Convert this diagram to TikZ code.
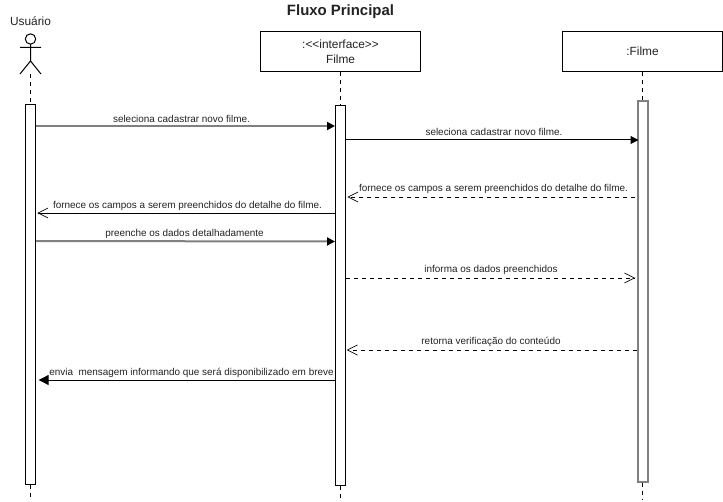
\documentclass[tikz,border=0pt]{standalone}
\usepackage{fontspec}
\setmainfont{Liberation Sans}
\usetikzlibrary{arrows.meta}
\definecolor{linecolor}{HTML}{000000}
\definecolor{softline}{HTML}{808080}
\definecolor{textcolor}{HTML}{222222}

\begin{document}
\begin{tikzpicture}[
    x=0.75pt, y=-0.75pt,
    classbox/.style={draw=linecolor, line width=0.75pt, fill=white, minimum width=120pt, minimum height=30pt, inner sep=0pt, align=center, font=\fontsize{8.9}{11}\selectfont, text=textcolor},
    activation/.style={draw=linecolor, line width=0.75pt, fill=white, minimum width=7.5pt, minimum height=285pt, inner sep=0pt},
    lifeline/.style={draw=linecolor, line width=0.75pt, dash pattern=on 3pt off 3pt},
    msglabel/.style={inner sep=0pt, font=\fontsize{7.45}{9}\selectfont, text=textcolor},
    call/.style={draw=linecolor, line width=0.75pt, -{Triangle[length=6pt, width=6pt]}},
    softcall/.style={draw=softline, line width=1.5pt, -{Triangle[length=6pt, width=6pt, color=linecolor]}},
    reply/.style={draw=linecolor, line width=0.75pt, -{Straight Barb[length=7.5pt, width=7.5pt, line width=0.5pt]}},
    dashreply/.style={reply, dash pattern=on 3pt off 3pt}
]
  \useasboundingbox (0,0) rectangle (723,502);

  % 1. Title and headers
  \node[inner sep=0pt, font=\bfseries\fontsize{11.2}{13}\selectfont, text=textcolor] (title) at (340.5,11.5) {Fluxo Principal};
  \node[inner sep=0pt, font=\fontsize{8.9}{12}\selectfont, text=textcolor] (usuario) at (30.5,21) {Usuário};
  \node[classbox] (interface) at (340.5,51.5) {:{<}{<}interface{>}{>}\\Filme};
  \node[classbox] (filme) at (642.5,51.5) {:Filme};

  % 2. Actor
  \begin{scope}[shift={(30.5,39)}]
    \draw[linecolor, line width=0.75pt] (0,0) circle (3.9pt);
    \draw[linecolor, line width=0.75pt] (0,5) -- (0,22) (-10.5,8.5) -- (10.5,8.5) (-10.5,35) -- (0,22) -- (10.5,35);
    \coordinate (foot) at (0,35);
  \end{scope}

  % 3. Activation bars
  \node[activation] (actusuario) at (30.5,294.5) {};
  \node[activation] (actinterface) at (340.5,295.5) {};
  \node[activation, draw=softline, line width=1.5pt] (actfilme) at (642.5,291.5) {};

  % 4. Lifelines
  \path[lifeline] (foot) -- (actusuario.north);
  \path[lifeline] (interface.south) -- (actinterface.north);
  \path[lifeline] (filme.south) -- (actfilme.north);
  \coordinate (endusuario) at (30.5,498);
  \coordinate (endinterface) at (340.5,500);
  \coordinate (endfilme) at (642.5,500);
  \path[lifeline] (actusuario.south) -- (endusuario);
  \path[lifeline] (actinterface.south) -- (endinterface);
  \path[lifeline] (actfilme.south) -- (endfilme);

  % 5. Messages
  \draw[softcall] (actusuario.east |- 0,126) -- (actinterface.west |- 0,126);
  \draw[call] (actinterface.east |- 0,140) -- ([xshift=1.5pt]actfilme.west |- 0,140);
  \draw[dashreply] ([xshift=-1pt]actfilme.west |- 0,197) -- ([xshift=1pt]actinterface.east |- 0,197);
  \draw[reply] (actinterface.west |- 0,213) -- ([xshift=1pt]actusuario.east |- 0,213);
  \draw[softcall] (actusuario.east |- 0,241) -- (actinterface.west |- 0,241.5);
  \draw[dashreply] (actinterface.east |- 0,278) -- ([xshift=-1pt]actfilme.west |- 0,278);
  \draw[dashreply] (actfilme.west |- 0,350) -- ([xshift=0.5pt]actinterface.east |- 0,350);
  \draw[call, -{Triangle[length=7.5pt, width=7.5pt]}] (actinterface.west |- 0,380) -- ([xshift=2pt]actusuario.east |- 0,380);

  % 6. Message labels
  \node[msglabel] (msga) at (181.5,118.5) {seleciona cadastrar novo filme.};
  \node[msglabel] (msgb) at (494,132) {seleciona cadastrar novo filme.};
  \node[msglabel] (msgc) at (493.5,189) {fornece os campos a serem preenchidos do detalhe do filme.};
  \node[msglabel] (msgd) at (187.5,205.5) {fornece os campos a serem preenchidos do detalhe do filme.};
  \node[msglabel] (msge) at (184.5,233.5) {preenche os dados detalhadamente};
  \node[msglabel] (msgf) at (491,269.5) {informa os dados preenchidos};
  \node[msglabel] (msgg) at (491,342) {retorna verificação do conteúdo};
  \node[msglabel] (msgh) at (191.5,372.5) {envia\ \ mensagem informando que será disponibilizado em breve};

\end{tikzpicture}
\end{document}
